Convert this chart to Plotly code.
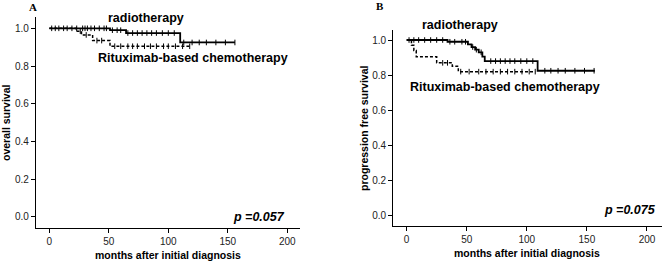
import numpy as np
import plotly.graph_objects as go

# ---------------- data ----------------
# Panel A: overall survival (step-function change points)
a_radio_t = [0, 51, 64.5, 110, 156]
a_radio_s = [1.0, 0.99, 0.975, 0.925, 0.925]
a_radio_cens = [2, 5, 8, 12, 15, 19, 23, 28, 30, 32, 35, 38, 42, 46, 48,
                53, 57, 60, 66, 70, 74, 78, 82, 86, 90, 95, 100, 105,
                113, 120, 126, 132, 140, 148, 156]
a_chemo_t = [0, 22.5, 27, 36.4, 51, 118]
a_chemo_s = [1.0, 0.985, 0.965, 0.935, 0.905, 0.905]
a_chemo_cens = [26, 31, 40, 44, 55, 60, 66, 70, 74, 80, 85, 90, 96, 100, 106, 112, 118]

# Panel B: progression free survival
b_radio_t = [0, 34, 51, 54, 57, 60, 63, 65, 109, 156.6]
b_radio_s = [1.0, 0.99, 0.975, 0.96, 0.945, 0.93, 0.905, 0.88, 0.825, 0.825]
b_radio_cens = [2, 6, 10, 15, 20, 25, 30, 36, 40, 46, 49, 55, 58, 62,
                70, 74, 78, 82, 86, 90, 95, 100, 105,
                115, 120, 126, 132, 140, 148, 156]
b_chemo_t = [0, 4, 6, 8, 25, 38, 43, 107]
b_chemo_s = [1.0, 0.97, 0.94, 0.905, 0.87, 0.85, 0.82, 0.82]
b_chemo_cens = [30, 34, 45, 52, 60, 66, 72, 78, 84, 90, 96, 102, 107]

x_ticks = [0, 50, 100, 150, 200]
y_ticks = [0.0, 0.2, 0.4, 0.6, 0.8, 1.0]
x_title = "months after initial diagnosis"
a_y_title = "overall survival"
b_y_title = "progression free survival"
a_p = "p =0.057"
b_p = "p =0.075"

# ---------------- figure ----------------
W, H = 663, 262
FONT = "Arial, 'Liberation Sans', sans-serif"

def step_val(t_arr, s_arr, t):
    idx = np.searchsorted(np.array(t_arr), t, side="right") - 1
    return s_arr[max(idx, 0)]

fig = go.Figure()

def add_curve(t, s, cens, xa, ya, dash, width):
    fig.add_trace(go.Scatter(x=t, y=s, mode="lines", line_shape="hv",
                             line=dict(color="black", width=width, dash=dash),
                             xaxis=xa, yaxis=ya, showlegend=False, hoverinfo="skip"))
    cy = [step_val(t, s, c) for c in cens]
    fig.add_trace(go.Scatter(x=cens, y=cy, mode="markers",
                             marker=dict(symbol="line-ns", size=4,
                                         line=dict(color="black", width=1)),
                             xaxis=xa, yaxis=ya, showlegend=False, hoverinfo="skip"))

add_curve(a_radio_t, a_radio_s, a_radio_cens, "x", "y", "solid", 1.8)
add_curve(a_chemo_t, a_chemo_s, a_chemo_cens, "x", "y", "3px,2px", 1.5)
add_curve(b_radio_t, b_radio_s, b_radio_cens, "x2", "y2", "solid", 1.8)
add_curve(b_chemo_t, b_chemo_s, b_chemo_cens, "x2", "y2", "3px,2px", 1.5)

def px(v):
    return v / W

def py(v):
    return 1 - v / H

axis_common = dict(showline=True, linecolor="black", linewidth=1.3, ticks="outside",
                   ticklen=4, tickwidth=1, tickcolor="black", showgrid=False,
                   zeroline=False, tickfont=dict(family=FONT, size=10, color="#222"),
                   fixedrange=True)

fig.update_layout(
    width=W, height=H,
    margin=dict(l=0, r=0, t=0, b=0, autoexpand=False),
    paper_bgcolor="white", plot_bgcolor="white",
    xaxis=dict(domain=[px(36), px(300)], range=[-11.2, 210.7], tickvals=x_ticks,
               anchor="y", **axis_common),
    yaxis=dict(domain=[py(227.7), py(17)], range=[-0.057, 1.06], tickvals=y_ticks,
               tickformat=".1f", anchor="x", **axis_common),
    xaxis2=dict(domain=[px(393.3), px(662)], range=[-11.1, 212.5], tickvals=x_ticks,
                anchor="y2", **axis_common),
    yaxis2=dict(domain=[py(225.7), py(30)], range=[-0.057, 1.057], tickvals=y_ticks,
                tickformat=".1f", anchor="x2", **axis_common),
)

ann = []
lab = dict(family=FONT, size=12.5, color="black")
serif = dict(family="'Liberation Serif', 'Times New Roman', serif", size=11, color="black")

def paper_ann(text, x, y, font, angle=0):
    ann.append(dict(text=text, x=px(x), y=py(y), xref="paper", yref="paper",
                    xanchor="center", yanchor="middle", textangle=angle,
                    showarrow=False, font=font))

# panel letters
paper_ann("<b>A</b>", 33, 7, serif)
paper_ann("<b>B</b>", 380, 6, serif)
# curve labels
paper_ann("<b>radiotherapy</b>", 146, 18, lab)
ann.append(dict(text="<b>Rituximab-based chemotherapy</b>", x=121, y=0.843, xref="x", yref="y",
                xanchor="center", yanchor="middle", showarrow=False, font=lab))
ann.append(dict(text="<b><i>" + a_p + "</i></b>", x=199.7, y=0.0, xref="x", yref="y",
                xanchor="right", yanchor="middle", showarrow=False, font=lab))
paper_ann("<b>radiotherapy</b>", 459.7, 25, lab)
ann.append(dict(text="<b>Rituximab-based chemotherapy</b>", x=81.8, y=0.734, xref="x2", yref="y2",
                xanchor="center", yanchor="middle", showarrow=False, font=lab))
ann.append(dict(text="<b><i>" + b_p + "</i></b>", x=208.8, y=0.031, xref="x2", yref="y2",
                xanchor="right", yanchor="middle", showarrow=False, font=lab))
# axis titles
tf = dict(family=FONT, size=10.5, color="black")
paper_ann("<b>" + x_title + "</b>", 168, 255, tf)
paper_ann("<b>" + x_title + "</b>", 527, 252.7, tf)
paper_ann("<b>" + a_y_title + "</b>", 6, 123, tf, -90)
paper_ann("<b>" + b_y_title + "</b>", 364, 128, tf, -90)
fig.update_layout(annotations=ann)

fig.write_html("out.html", config={"displayModeBar": False},
               post_script="document.body.style.margin='0';document.body.style.padding='0';")
